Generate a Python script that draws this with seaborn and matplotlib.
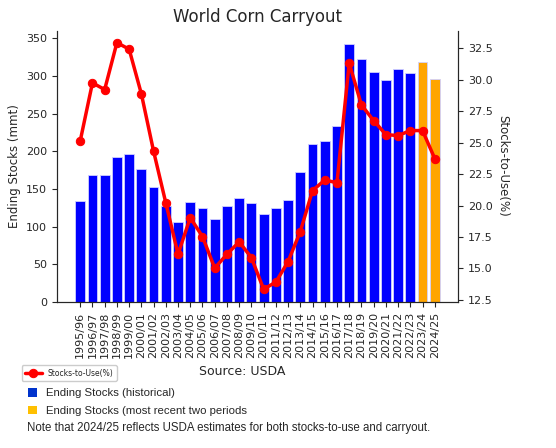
import matplotlib
matplotlib.use("Agg")
import matplotlib.pyplot as plt
from matplotlib.patches import Patch
import seaborn as sns
import numpy as np
import pandas as pd

years = ["1995/96", "1996/97", "1997/98", "1998/99", "1999/00", "2000/01", "2001/02",
         "2002/03", "2003/04", "2004/05", "2005/06", "2006/07", "2007/08", "2008/09",
         "2009/10", "2010/11", "2011/12", "2012/13", "2013/14", "2014/15", "2015/16",
         "2016/17", "2017/18", "2018/19", "2019/20", "2020/21", "2021/22", "2022/23",
         "2023/24", "2024/25"]
ending_stocks = [134, 168, 169, 193, 196, 176, 153, 128, 106, 133, 125, 110, 127, 138,
                 132, 117, 125, 135, 172, 210, 213, 233, 343, 323, 305, 294, 309, 304,
                 318, 296]
stocks_to_use = [25.14, 29.75, 29.22, 32.95, 32.43, 28.88, 24.32, 20.21, 16.13, 19.04,
                 17.53, 15.02, 16.13, 17.11, 15.86, 13.35, 13.91, 15.54, 17.93, 21.19,
                 22.02, 21.82, 31.32, 28.0, 26.75, 25.64, 25.56, 25.96, 25.96, 23.73]
period = ["historical"] * 28 + ["recent"] * 2

df = pd.DataFrame({"year": years, "stocks": ending_stocks, "stu": stocks_to_use,
                   "period": period})

sns.set_style("ticks")
plt.rcParams['font.family'] = ['DejaVu Sans']

fig = plt.figure(figsize=(5.56, 4.48), dpi=100)
ax = fig.add_axes([57/556, 1-302/448, (458-57)/556, (302-30.7)/448])

sns.barplot(data=df, x="year", y="stocks", hue="period",
            palette={"historical": "#0000FF", "recent": "#FFA500"},
            dodge=False, saturation=1, width=0.8, edgecolor="#d0d0ff", linewidth=0.6,
            legend=False, ax=ax)
ax.set_xlim(-1.9, 30.9)
ax.set_ylim(0, 360)
ax.set_xlabel("")
ax.set_ylabel("Ending Stocks (mmt)", fontsize=8.5)
ax.tick_params(axis="x", labelrotation=90, labelsize=8)
ax.tick_params(axis="y", labelsize=8)
ax.set_yticks(np.arange(0, 351, 50))
ax.spines["top"].set_visible(False)

ax2 = ax.twinx()
xpos = np.arange(len(years))
sns.lineplot(x=xpos, y=df["stu"], ax=ax2, color="red", linewidth=2.5, marker="o",
             markersize=6, markeredgecolor="red", label="Stocks-to-Use(%)")
ax2.set_xlim(-1.9, 30.9)
ax2.set_ylim(12.33, 33.9)
ax2.set_yticks(np.arange(12.5, 33, 2.5))
ax2.tick_params(axis="y", labelsize=8)
ax2.set_ylabel("Stocks-to-Use(%)", fontsize=8.5, rotation=270, labelpad=12)
ax2.spines["top"].set_visible(False)
ax2.legend(loc="center left", bbox_to_anchor=(18/556, 1-373/448),
           bbox_transform=fig.transFigure, fontsize=5.5, handlelength=2.2,
           borderpad=0.4, framealpha=1)

ax.set_title("World Corn Carryout", fontsize=12)

fig.text(242/556, 1-371/448, "Source: USDA", ha="center", va="center", fontsize=9)

handles = [Patch(facecolor="#0033CC", edgecolor="none"),
           Patch(facecolor="#FFC000", edgecolor="none")]
fig.legend(handles, ["Ending Stocks (historical)", "Ending Stocks (most recent two periods"],
           loc="upper left", bbox_to_anchor=(28/556, 1-388/448), frameon=False,
           prop={"family": "Liberation Sans", "size": 8.2},
           handlelength=0.8, handleheight=0.8, handletextpad=0.75,
           labelspacing=0.65, borderaxespad=0, borderpad=0)

fig.text(27/556, 1-428/448,
         "Note that 2024/25 reflects USDA estimates for both stocks-to-use and carryout.",
         ha="left", va="center", fontsize=8.3, family="Liberation Sans")

fig.savefig("out.png", dpi=100)
